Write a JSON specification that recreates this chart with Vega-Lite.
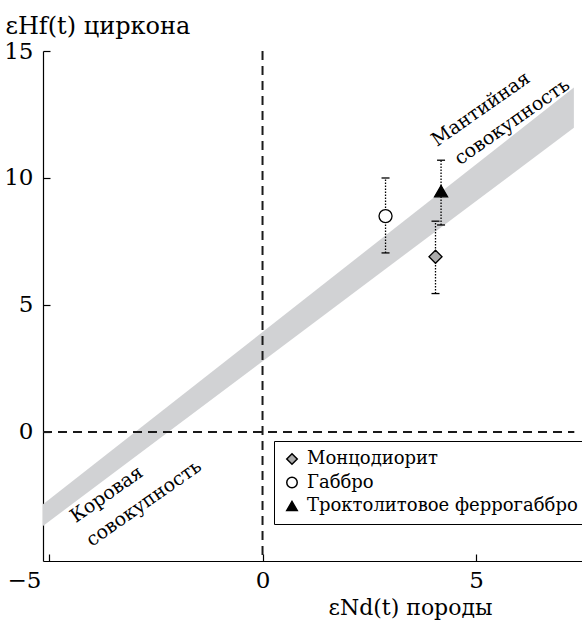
{
  "$schema": "https://vega.github.io/schema/vega-lite/v6.json",
  "width": 539,
  "height": 510,
  "autosize": "none",
  "padding": {"left": 43, "top": 51, "right": 0, "bottom": 59},
  "background": "white",
  "config": {
    "view": {"stroke": null},
    "font": "DejaVu Serif",
    "text": {"font": "DejaVu Serif"},
    "legend": {"labelFont": "DejaVu Serif", "titleFont": "DejaVu Serif"},
    "axis": {
      "grid": false,
      "domainColor": "black",
      "domainWidth": 1.2,
      "tickColor": "black",
      "tickWidth": 1.2,
      "labelColor": "black",
      "titleColor": "black",
      "labelFont": "DejaVu Serif",
      "titleFont": "DejaVu Serif",
      "labelFontSize": 23,
      "titleFontSize": 22,
      "titleFontWeight": "normal"
    }
  },
  "datasets": {
    "band": [
      {"x": -5.14, "lo": -3.7, "hi": -2.85},
      {"x": 7.29, "lo": 11.98, "hi": 13.56}
    ],
    "hline": [{"x": -5.14, "x2": 7.3, "y": 0}],
    "vline": [{"x": 0}],
    "samples": [
      {"rock": "Монцодиорит", "nd": 4.05, "hf": 6.9, "hf_min": 5.45, "hf_max": 8.3},
      {"rock": "Габбро", "nd": 2.88, "hf": 8.5, "hf_min": 7.05, "hf_max": 10.0},
      {"rock": "Троктолитовое феррогаббро", "nd": 4.18, "hf": 9.48, "hf_min": 8.15, "hf_max": 10.7}
    ],
    "labels": [
      {"x": 5.11, "y": 12.72, "t": "Мантийная"},
      {"x": 5.84, "y": 12.22, "t": "совокупность"},
      {"x": -3.65, "y": -2.45, "t": "Коровая"},
      {"x": -2.78, "y": -2.8, "t": "совокупность"}
    ]
  },
  "layer": [
    {
      "data": {"name": "band"},
      "mark": {"type": "area", "color": "#d1d2d4", "opacity": 1},
      "encoding": {
        "x": {"field": "x", "type": "quantitative", "scale": {"domain": [-5.14, 7.48], "nice": false, "zero": false},
          "axis": {"values": [-5, 0, 5], "title": "εNd(t) породы", "tickSize": -7, "labelPadding": 15,
            "labelOffset": {"condition": {"test": "datum.value === -5", "value": -25}, "value": 0},
            "titleX": 367, "titleY": 53, "titleAnchor": null, "titleAlign": "center", "titleBaseline": "alphabetic"}},
        "y": {"field": "hi", "type": "quantitative", "scale": {"domain": [-5.08, 15], "nice": false, "zero": false},
          "axis": {"values": [0, 5, 10, 15], "title": "εHf(t) циркона", "tickSize": -7, "labelPadding": 17, "titleFontSize": 24,
            "titleAngle": 0, "titleAlign": "left", "titleBaseline": "alphabetic", "titleX": -38, "titleY": -18, "titleAnchor": null}},
        "y2": {"field": "lo"}
      }
    },
    {
      "data": {"name": "hline"},
      "mark": {"type": "rule", "color": "#1a1a1a", "strokeWidth": 2, "strokeDash": [9, 6]},
      "encoding": {
        "x": {"field": "x", "type": "quantitative", "title": "εNd(t) породы", "scale": {"domain": [-5.14, 7.48], "nice": false, "zero": false}},
        "x2": {"field": "x2"},
        "y": {"field": "y", "type": "quantitative", "title": "εHf(t) циркона", "scale": {"domain": [-5.08, 15], "nice": false, "zero": false}}
      }
    },
    {
      "data": {"name": "vline"},
      "mark": {"type": "rule", "color": "#1a1a1a", "strokeWidth": 2, "strokeDash": [9, 6]},
      "encoding": {
        "x": {"field": "x", "type": "quantitative", "title": "εNd(t) породы", "scale": {"domain": [-5.14, 7.48], "nice": false, "zero": false}}
      }
    },
    {
      "data": {"name": "samples"},
      "mark": {"type": "rule", "color": "black", "strokeWidth": 1.3, "strokeDash": [1.5, 1.5]},
      "encoding": {
        "x": {"field": "nd", "type": "quantitative", "title": "εNd(t) породы", "scale": {"domain": [-5.14, 7.48], "nice": false, "zero": false}},
        "y": {"field": "hf_min", "type": "quantitative", "title": "εHf(t) циркона", "scale": {"domain": [-5.08, 15], "nice": false, "zero": false}},
        "y2": {"field": "hf_max"}
      }
    },
    {
      "data": {"name": "samples"},
      "mark": {"type": "point", "shape": "M-1,0H1", "size": 64, "filled": false, "stroke": "black", "strokeWidth": 1.3, "opacity": 1},
      "encoding": {
        "x": {"field": "nd", "type": "quantitative", "title": "εNd(t) породы", "scale": {"domain": [-5.14, 7.48], "nice": false, "zero": false}},
        "y": {"field": "hf_min", "type": "quantitative", "title": "εHf(t) циркона", "scale": {"domain": [-5.08, 15], "nice": false, "zero": false}}
      }
    },
    {
      "data": {"name": "samples"},
      "mark": {"type": "point", "shape": "M-1,0H1", "size": 64, "filled": false, "stroke": "black", "strokeWidth": 1.3, "opacity": 1},
      "encoding": {
        "x": {"field": "nd", "type": "quantitative", "title": "εNd(t) породы", "scale": {"domain": [-5.14, 7.48], "nice": false, "zero": false}},
        "y": {"field": "hf_max", "type": "quantitative", "title": "εHf(t) циркона", "scale": {"domain": [-5.08, 15], "nice": false, "zero": false}}
      }
    },
    {
      "data": {"name": "samples"},
      "mark": {"type": "point", "filled": true, "stroke": "black", "strokeWidth": 1.3, "size": 170, "opacity": 1},
      "encoding": {
        "x": {"field": "nd", "type": "quantitative", "title": "εNd(t) породы", "scale": {"domain": [-5.14, 7.48], "nice": false, "zero": false}},
        "y": {"field": "hf", "type": "quantitative", "title": "εHf(t) циркона", "scale": {"domain": [-5.08, 15], "nice": false, "zero": false}},
        "shape": {"field": "rock", "type": "nominal",
          "scale": {"domain": ["Монцодиорит", "Габбро", "Троктолитовое феррогаббро"], "range": ["diamond", "circle", "triangle-up"]},
          "legend": {"title": null, "orient": "none", "legendX": 231, "legendY": 390, "strokeColor": "black", "fillColor": "white",
            "padding": 9, "labelFont": "DejaVu Serif", "labelFontSize": 18, "labelColor": "black", "labelLimit": 500,
            "symbolSize": 110, "rowPadding": 5.5, "labelOffset": 6,
            "encode": {"symbols": {"update": {"stroke": {"value": "black"}, "strokeWidth": {"value": 1.2}, "opacity": {"value": 1}}}}}},
        "fill": {"field": "rock", "type": "nominal",
          "scale": {"domain": ["Монцодиорит", "Габбро", "Троктолитовое феррогаббро"], "range": ["#ababab", "white", "black"]},
          "legend": {"title": null, "orient": "none", "legendX": 231, "legendY": 390, "strokeColor": "black", "fillColor": "white",
            "padding": 9, "labelFont": "DejaVu Serif", "labelFontSize": 18, "labelColor": "black", "labelLimit": 500,
            "symbolSize": 110, "rowPadding": 5.5, "labelOffset": 6,
            "encode": {"symbols": {"update": {"stroke": {"value": "black"}, "strokeWidth": {"value": 1.2}, "opacity": {"value": 1}}}}}}
      }
    },
    {
      "data": {"name": "labels"},
      "mark": {"type": "text", "font": "DejaVu Serif", "fontSize": 19, "angle": -35, "align": "center", "baseline": "middle", "color": "black"},
      "encoding": {
        "x": {"field": "x", "type": "quantitative", "title": "εNd(t) породы", "scale": {"domain": [-5.14, 7.48], "nice": false, "zero": false}},
        "y": {"field": "y", "type": "quantitative", "title": "εHf(t) циркона", "scale": {"domain": [-5.08, 15], "nice": false, "zero": false}},
        "text": {"field": "t", "type": "nominal"}
      }
    }
  ]
}
